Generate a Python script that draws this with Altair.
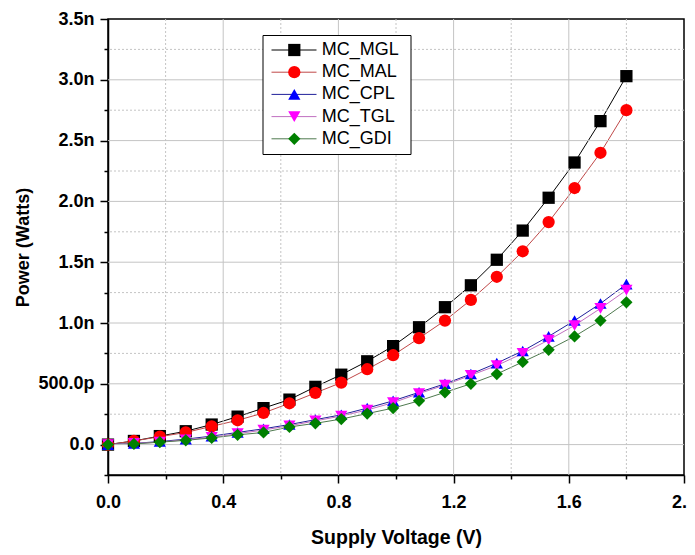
import altair as alt
import pandas as pd

# ---- data (power in nW) ----
voltage = [0.0, 0.09, 0.18, 0.27, 0.36, 0.45, 0.54, 0.63, 0.72, 0.81, 0.90,
           0.99, 1.08, 1.17, 1.26, 1.35, 1.44, 1.53, 1.62, 1.71, 1.80]
series_names = ["MC_MGL", "MC_MAL", "MC_CPL", "MC_TGL", "MC_GDI"]
mc_mgl = [0.0, 0.03, 0.07, 0.11, 0.165, 0.23, 0.30, 0.37, 0.475, 0.575, 0.685,
          0.81, 0.965, 1.13, 1.31, 1.52, 1.76, 2.03, 2.32, 2.66, 3.03]
mc_mal = [0.0, 0.03, 0.065, 0.10, 0.15, 0.20, 0.26, 0.34, 0.425, 0.51, 0.62,
          0.735, 0.875, 1.02, 1.19, 1.38, 1.59, 1.83, 2.11, 2.40, 2.75]
mc_cpl = [0.0, 0.01, 0.025, 0.045, 0.07, 0.10, 0.13, 0.165, 0.205, 0.245, 0.30,
          0.36, 0.43, 0.50, 0.58, 0.67, 0.77, 0.89, 1.02, 1.16, 1.32]
mc_tgl = [0.0, 0.01, 0.02, 0.04, 0.06, 0.09, 0.12, 0.155, 0.195, 0.235, 0.285,
          0.345, 0.42, 0.49, 0.57, 0.65, 0.75, 0.86, 0.98, 1.12, 1.27]
mc_gdi = [0.0, 0.005, 0.02, 0.035, 0.055, 0.08, 0.10, 0.145, 0.175, 0.21, 0.255,
          0.30, 0.36, 0.43, 0.50, 0.58, 0.68, 0.78, 0.89, 1.02, 1.17]
all_series = [mc_mgl, mc_mal, mc_cpl, mc_tgl, mc_gdi]

x_tick_values = [0.0, 0.2, 0.4, 0.6, 0.8, 1.0, 1.2, 1.4, 1.6, 1.8, 2.0]
y_tick_values = [-0.25, 0.0, 0.25, 0.5, 0.75, 1.0, 1.25, 1.5, 1.75, 2.0,
                 2.25, 2.5, 2.75, 3.0, 3.25, 3.5]
x_grid_major = [0.4, 0.8, 1.2, 1.6]
x_grid_minor = [0.2, 0.6, 1.0, 1.4, 1.8]
y_grid_major = [0.0, 0.5, 1.0, 1.5, 2.0, 2.5, 3.0]
y_grid_minor = [0.25, 0.75, 1.25, 1.75, 2.25, 2.75, 3.25]

marker_colors = ["#000000", "#ff0000", "#0000ff", "#ff00ff", "#008000"]
line_colors = ["#000000", "#c04848", "#20209a", "#c070c0", "#4f7a4f"]
marker_shapes = ["square", "circle", "triangle-up", "triangle-down", "diamond"]

rows = []
for name, vals in zip(series_names, all_series):
    for v, p in zip(voltage, vals):
        rows.append({"voltage": v, "power": p, "series": name, "line_series": name})
df = pd.DataFrame(rows)

FONT = "Liberation Sans"

x_major = "abs(datum.value/0.4 - round(datum.value/0.4)) < 0.01"
y_major = "abs(datum.value/0.5 - round(datum.value/0.5)) < 0.01"

x_scale = alt.Scale(domain=[0, 2.0], nice=False, zero=False)
y_scale = alt.Scale(domain=[-0.25, 3.5], nice=False, zero=False)

x_axis = alt.Axis(
    values=x_tick_values,
    title="Supply Voltage (V)",
    grid=False,
    labelExpr=f"{x_major} ? format(datum.value, '.1f') : ''",
    labelFlush=False,
    labelOverlap=False,
    tickSize={"condition": {"test": x_major, "value": 8}, "value": 4},
    labelPadding=10,
    titlePadding=17,
)
y_axis = alt.Axis(
    values=y_tick_values,
    title="Power (Watts)",
    grid=False,
    labelExpr=(
        f"{y_major} ? (datum.value == 0 ? '0.0' : (datum.value < 1 ? "
        "format(datum.value*1000, '.1f') + 'p' : format(datum.value, '.1f') + 'n')) : ''"
    ),
    labelFlush=False,
    labelOverlap=False,
    tickSize={"condition": {"test": y_major, "value": 8}, "value": 4},
    labelPadding=6,
    titlePadding=5,
)
x_enc = alt.X("voltage:Q", scale=x_scale, axis=x_axis)
y_enc = alt.Y("power:Q", scale=y_scale, axis=y_axis)

# ---- grid lines (from tick arrays, through the shared scales) ----
grid_color = "#c4c4c4"
xg_major = alt.Chart(pd.DataFrame({"voltage": x_grid_major})).mark_rule(
    color=grid_color, strokeWidth=1
).encode(x=x_enc)
xg_minor = alt.Chart(pd.DataFrame({"voltage": x_grid_minor})).mark_rule(
    color=grid_color, strokeWidth=1, strokeDash=[2, 2]
).encode(x=x_enc)
yg_major = alt.Chart(pd.DataFrame({"power": y_grid_major})).mark_rule(
    color=grid_color, strokeWidth=1
).encode(y=y_enc)
yg_minor = alt.Chart(pd.DataFrame({"power": y_grid_minor})).mark_rule(
    color=grid_color, strokeWidth=1, strokeDash=[2, 2]
).encode(y=y_enc)

base = alt.Chart(df)

lines = base.mark_line(strokeWidth=1).encode(
    x=x_enc,
    y=y_enc,
    stroke=alt.Stroke(
        "line_series:N",
        sort=series_names,
        scale=alt.Scale(range=line_colors),
        legend=alt.Legend(
            title=None,
            orient="none",
            legendX=154.5,
            legendY=16,
            symbolType="M-3.75,0L3.75,0",
            symbolSize=144,
            symbolOffset=16.5,
            symbolStrokeWidth=1,
            symbolFillColor="transparent",
            labelOpacity=0,
            labelFontSize=18,
            labelFont=FONT,
            labelOffset=23.5,
            labelLimit=300,
            padding=6,
            rowPadding=4.2,
            fillColor="white",
            strokeColor="black",
            zindex=1,
        ),
    ),
)

shape_legend = alt.Legend(
    title=None,
    orient="none",
    legendX=171.3,
    legendY=16,
    symbolSize=150,
    symbolOpacity=1,
    symbolStrokeWidth=0,
    labelFontSize=18,
    labelFont=FONT,
    labelColor="black",
    labelOffset=18.5,
    labelLimit=300,
    padding=6,
    rowPadding=4.2,
    zindex=2,
)

points = base.mark_point(filled=True, size=150, opacity=1, strokeWidth=0).encode(
    x=x_enc,
    y=y_enc,
    fill=alt.Fill(
        "series:N",
        scale=alt.Scale(domain=series_names, range=marker_colors),
        legend=shape_legend,
    ),
    shape=alt.Shape(
        "series:N",
        scale=alt.Scale(domain=series_names, range=marker_shapes),
        legend=shape_legend,
    ),
)

chart = (
    alt.layer(lines, xg_minor, yg_minor, xg_major, yg_major, points)
    .properties(
        width=576,
        height=456,
        autosize=alt.AutoSizeParams(type="none"),
        padding={"left": 100, "top": 11, "right": 3, "bottom": 80},
        background="white",
    )
    .configure_view(stroke="black", strokeWidth=1.5)
    .configure_axis(
        domainColor="black",
        domainWidth=1.5,
        tickColor="black",
        tickWidth=1.5,
        labelFont=FONT,
        labelFontSize=18,
        labelFontWeight="bold",
        labelColor="black",
        titleFont=FONT,
        titleFontWeight="bold",
        titleColor="black",
    )
    .configure_axisX(titleFontSize=19.5)
    .configure_axisY(titleFontSize=18)
)

chart.save("out.html", embed_options={"renderer": "svg", "actions": False})
